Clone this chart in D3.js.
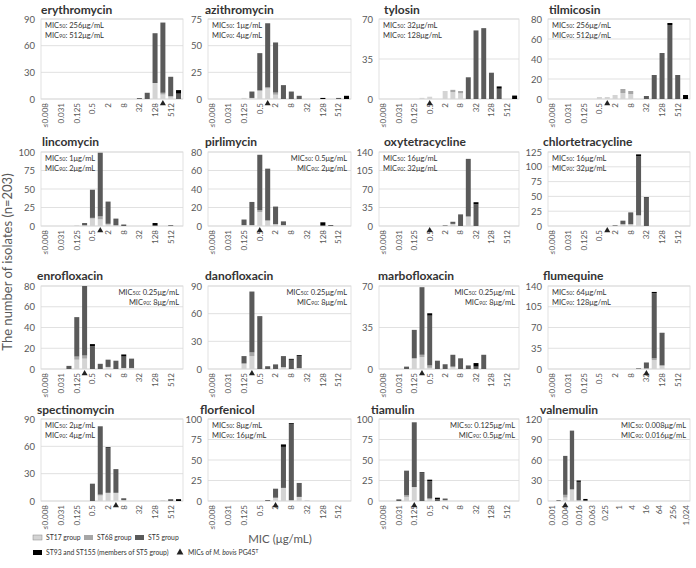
<!DOCTYPE html>
<html><head><meta charset="utf-8">
<script src="https://cdn.jsdelivr.net/npm/d3@7"></script>
<style>
body{margin:0;background:#fff}
svg{display:block}
text{font-family:Lato,"Open Sans",sans-serif}
</style>
</head><body>
<svg id="c" width="696" height="568"></svg>
<script>
// ---------- categories (MIC, µg/mL) ----------
const stdCats = ["≤0.008","0.016","0.031","0.063","0.125","0.25","0.5","1","2","4","8","16","32","64","128","256","512",">512"];
const valCats = ["0.001","0.002","0.004","0.008","0.016","0.031","0.063","0.125","0.25","0.5","1","2","4","8","16","32","64","128","256","512","1,024"];
const seriesKeys = ["ST17","ST68","ST5","ST93"];
const seriesNames = ["ST17 group","ST68 group","ST5 group","ST93 and ST155 (members of ST5 group)"];

// ---------- data: [MIC, ST17, ST68, ST5, ST93/ST155] ----------
const erythromycin = [["32",0,0,1,0],["64",0,0,7,0],["128",18,0,56,0],["256",5,2,79,0],["512",3,0,22,0],[">512",0,0,6,4]];
const azithromycin = [["0.125",1,0,0,0],["0.25",1,0,6,0],["0.5",8,0,35,0],["1",10,1,60,0],["2",4,2,47,0],["4",0,0,13,0],["8",0,0,7,0],["16",0,0,3,0],["128",0,0,0,1],["512",0,0,1,0],[">512",0,0,0,3]];
const tylosin = [["0.25",1,0,0,0],["0.5",2,0,0,0],["2",7,0,0,0],["4",6,2,0,0],["8",5,2,0,0],["16",0,0,19,0],["32",0,0,60,0],["64",0,0,62,0],["128",0,0,23,0],["256",0,0,9,2],[">512",0,0,0,3]];
const tilmicosin = [["0.5",2,0,0,0],["1",2,0,0,0],["2",4,0,0,0],["4",6,4,0,0],["8",5,3,0,0],["32",0,0,3,0],["64",0,0,24,0],["128",0,0,46,0],["256",0,0,74,2],["512",0,0,24,0],[">512",0,0,0,4]];
const lincomycin = [["0.125",1,0,0,0],["0.25",1,0,3,0],["0.5",10,1,38,0],["1",9,4,86,0],["2",2,1,30,0],["4",1,0,9,0],["8",0,0,2,0],["128",0,0,1,3],["512",0,0,1,0]];
const pirlimycin = [["0.125",1,0,6,0],["0.25",1,0,25,0],["0.5",15,2,60,0],["1",6,0,56,0],["2",2,0,19,0],["4",1,0,4,0],["128",0,0,1,3],["256",0,0,1,0]];
const oxytetracycline = [["2",0,0,1,0],["4",4,0,4,0],["8",0,0,22,0],["16",18,0,109,0],["32",0,0,41,4]];
const chlortetracycline = [["2",0,0,1,0],["4",3,0,6,0],["8",3,0,20,0],["16",18,0,100,3],["32",0,0,48,1]];
const enrofloxacin = [["0.063",0,0,3,0],["0.125",9,3,38,0],["0.25",10,3,67,0],["0.5",0,0,22,2],["1",0,0,5,0],["2",2,0,7,0],["4",0,0,8,0],["8",1,0,11,2],["16",1,0,9,0]];
const danofloxacin = [["0.125",6,0,8,0],["0.25",14,4,66,0],["0.5",0,0,56,1],["1",0,0,3,0],["2",0,0,5,0],["4",2,0,12,0],["8",0,0,10,1],["16",1,0,13,1]];
const marbofloxacin = [["0.063",0,0,2,0],["0.125",9,0,24,0],["0.25",10,2,57,0],["0.5",1,2,42,2],["1",0,0,7,0],["2",0,0,4,0],["4",2,0,10,0],["8",0,0,9,0],["16",0,0,3,0],["32",0,0,2,3],["64",0,0,12,0]];
const flumequine = [["16",0,0,1,0],["32",1,0,10,0],["64",15,3,110,2],["128",6,0,54,1]];
const spectinomycin = [["0.5",0,0,19,0],["1",6,1,75,0],["2",9,0,49,1],["4",9,0,26,0],["8",1,0,2,0],["256",1,0,0,0],["512",0,0,2,0],[">512",0,0,0,2]];
const florfenicol = [["1",0,0,1,0],["2",4,0,11,0],["4",16,0,50,3],["8",1,0,93,1],["16",5,0,17,0],["32",1,0,0,0]];
const tiamulin = [["0.031",0,0,2,0],["0.063",5,2,30,0],["0.125",17,0,79,0],["0.25",0,0,34,1],["0.5",3,0,21,2],["1",0,0,2,2],["2",1,0,2,0]];
const valnemulin = [["0.002",0,0,1,0],["0.004",5,4,57,0],["0.008",17,0,86,0],["0.016",1,0,27,2],["0.031",0,0,1,2]];

const drugNames = ["erythromycin","azithromycin","tylosin","tilmicosin","lincomycin","pirlimycin","oxytetracycline","chlortetracycline","enrofloxacin","danofloxacin","marbofloxacin","flumequine","spectinomycin","florfenicol","tiamulin","valnemulin"];
const drugData = [erythromycin,azithromycin,tylosin,tilmicosin,lincomycin,pirlimycin,oxytetracycline,chlortetracycline,enrofloxacin,danofloxacin,marbofloxacin,flumequine,spectinomycin,florfenicol,tiamulin,valnemulin];
const yTicks = [[0,30,60,90],[0,25,50,75],[0,35,70],[0,20,40,60,80],[0,25,50,75,100],[0,20,40,60,80],[0,35,70,105,140],[0,25,50,75,100,125],[0,20,40,60,80],[0,30,60,90],[0,35,70],[0,35,70,105,140],[0,30,60,90],[0,25,50,75,100],[0,25,50,75,100],[0,30,60,90,120]];
const mic50 = ["256","1","32","256","1","0.5","16","16","0.25","0.25","0.25","64","2","8","0.125","0.008"];
const mic90 = ["512","4","128","512","2","2","32","32","8","8","8","128","4","16","0.5","0.016"];
const pg45 = ["256","1","0.5","1","1","0.5","0.5","1","0.25","0.25","0.25","32","4","2","0.125","0.004"];

// ---------- layout ----------
const colX = [[41,183],[208,351],[379,519],[548,690]];
const rowY = [[19,99],[152,226],[286,369],[419,501]];
const titleX = [41,205,384,549, 42,205,384,543, 37,205,378,543, 37,200,371,540];
const titleY = [14,146,280,414];
const boxRight = [false,false,false,false,false,true,false,false,true,true,true,false,false,false,true,true];

const colors = {ST17:"#d4d4d4",ST68:"#a6a6a6",ST5:"#5a5a5a",ST93:"#000000"};
const svg = d3.select("#c");
const grey = "#595959";

drugNames.forEach((name,i)=>{
  const r = Math.floor(i/4), c = i%4;
  const [x0,x1] = colX[c], [y0,y1] = rowY[r];
  const cats = name==="valnemulin" ? valCats : stdCats;
  const ticks = yTicks[i];
  const x = d3.scaleBand().domain(cats).range([x0,x1]).paddingInner(0.36).paddingOuter(0.25);
  const y = d3.scaleLinear().domain([0,ticks[ticks.length-1]]).range([y1,y0]);
  const g = svg.append("g");

  // gridlines + box
  g.selectAll("line.grid").data(ticks).join("line").attr("class","grid")
    .attr("x1",x0).attr("x2",x1).attr("y1",d=>y(d)).attr("y2",d=>y(d))
    .attr("stroke","#d9d9d9").attr("stroke-width",0.8);
  g.append("rect").attr("x",x0).attr("y",y0).attr("width",x1-x0).attr("height",y1-y0)
    .attr("fill","none").attr("stroke","#d9d9d9").attr("stroke-width",0.8);

  // y axis
  const ya = g.append("g").attr("transform",`translate(${x0},0)`)
    .call(d3.axisLeft(y).tickValues(ticks).tickSize(0).tickPadding(6).tickFormat(d3.format("d")));
  ya.select(".domain").remove();
  ya.selectAll("text").attr("fill",grey).style("font-size","9.5px").style("font-family","Lato");

  // x axis
  const shown = cats.filter((d,k)=>k%2===0);
  const xa = g.append("g").attr("transform",`translate(0,${y1})`)
    .call(d3.axisBottom(x).tickValues(shown).tickSize(0));
  xa.select(".domain").remove();
  xa.selectAll("text").attr("transform","rotate(-90)").attr("x",-4).attr("y",0).attr("dy","0.35em")
    .attr("text-anchor","end").attr("fill",grey).style("font-size","8px").style("font-family","Lato");

  // stacked bars
  const rows = drugData[i].map(d=>({cat:d[0],ST17:d[1],ST68:d[2],ST5:d[3],ST93:d[4]}));
  const stacked = d3.stack().keys(seriesKeys)(rows);
  g.selectAll("g.s").data(stacked).join("g").attr("class","s").attr("fill",s=>colors[s.key])
    .selectAll("rect").data(s=>s).join("rect")
    .attr("x",d=>x(d.data.cat)).attr("width",x.bandwidth())
    .attr("y",d=>y(d[1])).attr("height",d=>Math.max(0,y(d[0])-y(d[1])));

  // PG45 marker
  g.append("path").attr("d",d3.symbol(d3.symbolTriangle).size(16)())
    .attr("transform",`translate(${x(pg45[i])+x.bandwidth()/2},${y1+4.5})`).attr("fill","#222");

  // title
  g.append("text").attr("x",titleX[i]).attr("y",titleY[r]).text(name)
    .style("font-size","12px").style("font-weight","700").attr("fill","#333");

  // MIC box text
  const right = boxRight[i];
  const tx = right ? x1-4 : x0+4;
  [["50",mic50[i]],["90",mic90[i]]].forEach((m,k)=>{
    const t = g.append("text").attr("x",tx).attr("y",y0+9+k*9.5)
      .attr("text-anchor",right?"end":"start").attr("fill","#333").style("font-size","7.5px");
    t.append("tspan").text("MIC");
    t.append("tspan").text(m[0]).style("font-size","5.5px");
    t.append("tspan").text(": "+m[1]+"μg/mL");
  });
});

// axis titles
svg.append("text").attr("transform","translate(12,262) rotate(-90)").attr("text-anchor","middle")
  .attr("fill",grey).style("font-size","13px").text("The number of isolates (n=203)");
svg.append("text").attr("x",280).attr("y",543).attr("text-anchor","middle")
  .attr("fill",grey).style("font-size","11.5px").text("MIC (μg/mL)");

// legend
const lg = svg.append("g").style("font-size","6.8px").attr("fill","#333");
const l1 = [[33,seriesKeys[0],seriesNames[0]],[84,seriesKeys[1],seriesNames[1]],[135,seriesKeys[2],seriesNames[2]]];
l1.forEach(([lx,k,n])=>{
  lg.append("rect").attr("x",lx).attr("y",535).attr("width",9).attr("height",5).attr("fill",colors[k]).attr("stroke",k==="ST17"?"#888":"none").attr("stroke-width",0.5);
  lg.append("text").attr("x",lx+13).attr("y",540).text(n);
});
lg.append("rect").attr("x",33).attr("y",550).attr("width",9).attr("height",5).attr("fill",colors.ST93);
lg.append("text").attr("x",46).attr("y",555).text(seriesNames[3]);
lg.append("path").attr("d",d3.symbol(d3.symbolTriangle).size(20)()).attr("transform","translate(180,552.5)").attr("fill","#222");
const lt = lg.append("text").attr("x",188).attr("y",555);
lt.append("tspan").text("MICs of ");
lt.append("tspan").text("M. bovis").style("font-style","italic");
lt.append("tspan").text(" PG45");
lt.append("tspan").text("T").attr("dy",-2.5).style("font-size","4.8px");
</script>
</body></html>
